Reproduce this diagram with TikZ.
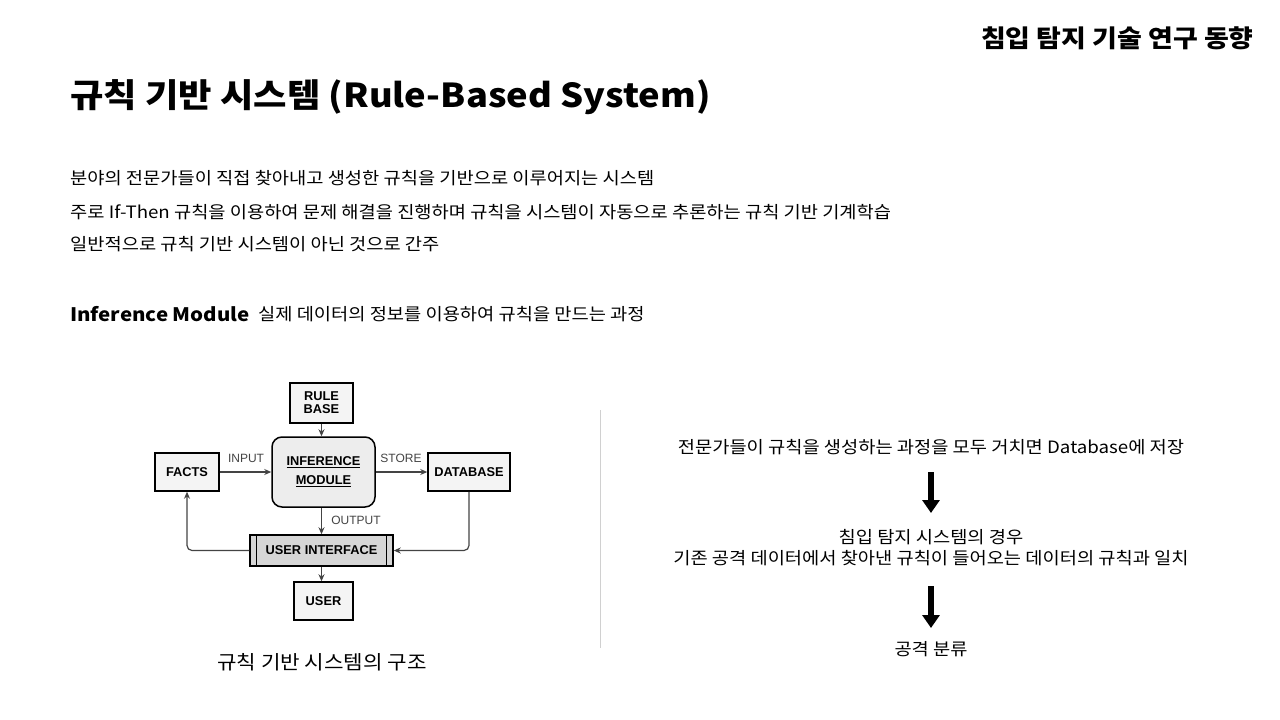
\documentclass[tikz,border=0pt]{standalone}
\usepackage{fontspec}
\usetikzlibrary{arrows.meta}
\setmainfont[FakeStretch=1.1]{Noto Sans CJK KR}
\newfontfamily\diag{Liberation Sans}
\definecolor{linegray}{HTML}{444444}
\definecolor{boxfill}{HTML}{F4F4F4}
\definecolor{modfill}{HTML}{EDEDED}
\definecolor{uifill}{HTML}{D6D6D6}
\definecolor{sep}{HTML}{D0D0D0}
\begin{document}
\begin{tikzpicture}[x=1pt,y=-1pt,
  box/.style={draw=black,line width=1.5pt,fill=boxfill,inner sep=0pt,align=center,
    font=\diag\bfseries\fontsize{12.8}{14}\selectfont},
  conn/.style={draw=linegray,line width=1.2pt,-{Stealth[length=7pt,width=6pt]}},
  lbl/.style={font=\diag\fontsize{12}{14}\selectfont,text=linegray,inner sep=0pt},
  body/.style={anchor=west,inner sep=0pt,font=\fontsize{17}{20}\selectfont},
  bigarrow/.style={line width=5.5pt,-{Triangle[width=17pt,length=13pt]}}
]
\path[use as bounding box,fill=white] (0,0) rectangle (1280,720);

% headings
\node[anchor=east,inner sep=0pt,font=\bfseries\fontsize{24.5}{28}\selectfont] (hdr) at (1254,38) {침입 탐지 기술 연구 동향};
\node[anchor=west,inner sep=0pt,font=\bfseries\fontsize{33}{40}\selectfont] (title) at (70,97) {규칙 기반 시스템 (Rule-Based System)};

% description lines
\node[body] (l1) at (70,178) {분야의 전문가들이 직접 찾아내고 생성한 규칙을 기반으로 이루어지는 시스템};
\node[body] (l2) at (70,212) {주로 If-Then 규칙을 이용하여 문제 해결을 진행하며 규칙을 시스템이 자동으로 추론하는 규칙 기반 기계학습};
\node[body] (l3) at (70,244) {일반적으로 규칙 기반 시스템이 아닌 것으로 간주};
\node[anchor=west,inner sep=0pt,font=\bfseries\fontsize{18.6}{22}\selectfont] (im) at (70,314) {Inference Module};
\node[body] (imd) at (258,314) {실제 데이터의 정보를 이용하여 규칙을 만드는 과정};

% block diagram
\node[box,minimum width=63pt,minimum height=40pt] (rb) at (321.5,403) {RULE\\[-1pt]BASE};
\node[box,fill=modfill,rounded corners=10pt,minimum width=103pt,minimum height=70pt] (inf) at (323.5,472)
  {\underline{INFERENCE}\\[5pt]\underline{MODULE}};
\node[box,minimum width=64pt,minimum height=38pt] (facts) at (187,472) {FACTS};
\node[box,minimum width=82pt,minimum height=38pt] (db) at (469,472) {DATABASE};
\node[box,fill=uifill,minimum width=143pt,minimum height=31pt] (ui) at (321.5,550.5) {USER INTERFACE};
\draw[line width=1.3pt] ([xshift=7pt]ui.north west) -- ([xshift=7pt]ui.south west);
\draw[line width=1.3pt] ([xshift=-7pt]ui.north east) -- ([xshift=-7pt]ui.south east);
\node[box,minimum width=59pt,minimum height=38pt] (user) at (323.5,601) {USER};

\draw[conn] (rb.south) -- (rb.south |- inf.north);
\draw[conn] (facts.east) -- (inf.west);
\draw[conn] (inf.east) -- (db.west);
\draw[conn] (inf.south -| rb.south) -- (ui.north -| rb.south);
\draw[conn] (ui.south -| rb.south) -- (user.north -| rb.south);
\draw[conn,rounded corners=5pt] (ui.west) -| (facts.south);
\draw[conn,rounded corners=5pt] (db.south) |- (ui.east);

\node[lbl,anchor=center] (linput) at (246,458) {INPUT};
\node[lbl,anchor=center] (lstore) at (401,458) {STORE};
\node[lbl,anchor=center] (lout) at (356,520) {OUTPUT};

\node[inner sep=0pt,font=\fontsize{19.3}{22}\selectfont] (cap) at (322,662) {규칙 기반 시스템의 구조};

% separator
\draw[sep,line width=0.8pt] (600,410) coordinate (s1) -- (600,648) coordinate (s2);

% flow on the right
\node[inner sep=0pt,font=\fontsize{17}{20}\selectfont] (r1) at (931,447) {전문가들이 규칙을 생성하는 과정을 모두 거치면 Database에 저장};
\node[inner sep=0pt,align=center,font=\fontsize{17}{21}\selectfont] (r2) at (931,548)
  {침입 탐지 시스템의 경우\\기존 공격 데이터에서 찾아낸 규칙이 들어오는 데이터의 규칙과 일치};
\node[inner sep=0pt,font=\fontsize{17}{20}\selectfont] (r3) at (931,649) {공격 분류};
\coordinate (a1s) at (931,472);
\coordinate (a1e) at (931,513);
\coordinate (a2s) at (931,586);
\coordinate (a2e) at (931,628);
\draw[bigarrow] (a1s) -- (a1e);
\draw[bigarrow] (a2s) -- (a2e);
\end{tikzpicture}
\end{document}
